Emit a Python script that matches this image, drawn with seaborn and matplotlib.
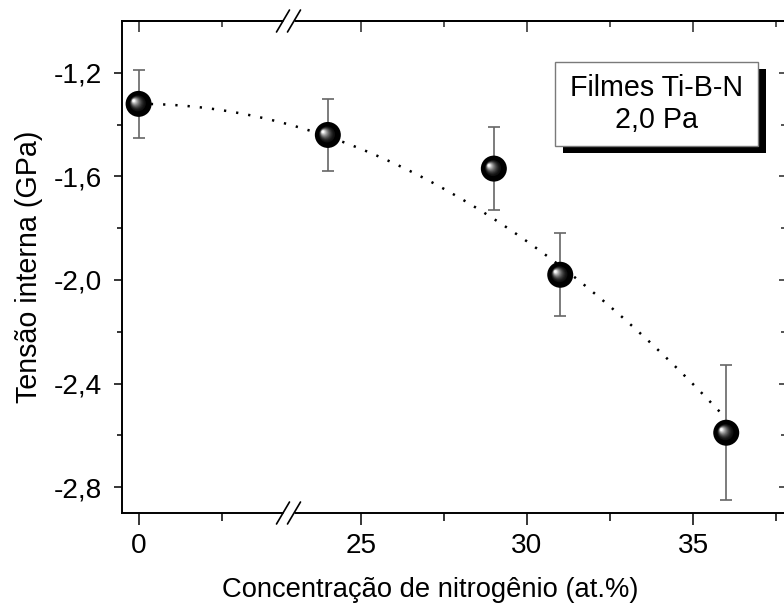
import numpy as np
import matplotlib
matplotlib.use("Agg")
import matplotlib.pyplot as plt
import matplotlib.transforms as mtransforms
from matplotlib.patches import Rectangle
from matplotlib.ticker import FixedLocator, FixedFormatter, NullFormatter
import seaborn as sns

# Internal stress of Ti-B-N films versus nitrogen content
nitrogen = [0.0, 24.0, 29.0, 31.0, 36.0]          # at.%
stress = [-1.32, -1.44, -1.57, -1.98, -2.59]      # GPa
stress_err = [0.13, 0.14, 0.16, 0.16, 0.26]       # GPa

x_major = [0, 25, 30, 35]
x_major_labels = ["0", "25", "30", "35"]
x_minor = [2.5, 27.5, 32.5, 37.5]
y_major = [-1.2, -1.6, -2.0, -2.4, -2.8]
y_minor = [-1.4, -1.8, -2.2, -2.6]

box_text = "Filmes Ti-B-N\n2,0 Pa"
x_title = "Concentração de nitrogênio (at.%)"
y_title = "Tensão interna (GPa)"

# broken x axis: the interval (BREAK_LO, BREAK_HI) is collapsed
BREAK_LO, BREAK_HI = 4.5, 22.8
X_MIN, X_MAX = -0.5, 37.83
Y_MIN, Y_MAX = -2.9, -1.0


def to_axis(x):
    x = np.asarray(x, dtype=float)
    return np.where(x > BREAK_LO, x - (BREAK_HI - BREAK_LO), x)


sns.set_theme(style="ticks")
plt.rcParams["font.family"] = ["Liberation Sans", "DejaVu Sans"]
plt.rcParams["font.size"] = 20

fig = plt.figure(figsize=(7.84, 6.10), dpi=100)
fig.patch.set_facecolor("white")
ax = fig.add_axes([122 / 784, 1 - 513 / 610, (787 - 122) / 784, (513 - 21) / 610])
ax.set_facecolor("white")

u = to_axis(nitrogen)
y = np.asarray(stress)

# parabolic trend anchored at the nitrogen-free film, drawn on the collapsed axis
du2 = (u[1:] - u[0]) ** 2
curv = np.sum(du2 * (y[1:] - y[0])) / np.sum(du2 ** 2)
u_fit = np.linspace(u[0], u[-1], 300)
y_fit = y[0] + curv * (u_fit - u[0]) ** 2
sns.lineplot(x=u_fit, y=y_fit, ax=ax, color="black", lw=1.8,
             linestyle=(0, (0.9, 4.0)), sort=False, zorder=2)

# error bars
ax.errorbar(u, y, yerr=stress_err, fmt="none", ecolor="#666666",
            elinewidth=1.2, capsize=4, capthick=1.2, zorder=3)

# shaded spheres
D = 26 * 0.72  # marker diameter in points
sns.scatterplot(x=u, y=y, ax=ax, s=D ** 2, color="black", edgecolor="none",
                linewidth=0, zorder=4, legend=False)
n_layers = 12
for i, t in enumerate(np.linspace(0, 1, n_layers)):
    diam = D * (0.62 - 0.52 * t)
    gray = 0.06 + 0.92 * t ** 1.6
    off = mtransforms.offset_copy(ax.transData, fig=fig,
                                  x=-4.0 * t * 0.72 - 0.6, y=2.6 * t * 0.72 + 0.4,
                                  units="points")
    sns.scatterplot(x=u, y=y, ax=ax, s=diam ** 2, color=(gray, gray, gray),
                    edgecolor="none", linewidth=0, zorder=5 + i * 0.01,
                    legend=False, transform=off)

# axes limits and ticks
ax.set_xlim(float(to_axis(X_MIN)), float(to_axis(X_MAX)))
ax.set_ylim(Y_MIN, Y_MAX)

ax.xaxis.set_major_locator(FixedLocator(to_axis(x_major)))
ax.xaxis.set_major_formatter(FixedFormatter(x_major_labels))
ax.xaxis.set_minor_locator(FixedLocator(to_axis(x_minor)))
ax.yaxis.set_major_locator(FixedLocator(y_major))
ax.yaxis.set_major_formatter(FixedFormatter([f"{v:.1f}".replace(".", ",") for v in y_major]))
ax.yaxis.set_minor_locator(FixedLocator(y_minor))
ax.yaxis.set_minor_formatter(NullFormatter())

lw_axis = 1.4
for sp in ax.spines.values():
    sp.set_linewidth(lw_axis)
    sp.set_color("black")

ax.tick_params(axis="x", which="major", direction="out", length=8.6, width=1.1,
               pad=5.5, labelsize=20.2, colors="black", top=False)
ax.tick_params(axis="x", which="minor", direction="out", length=5.8, width=1.1,
               top=False, colors="black")
ax.tick_params(axis="y", which="major", direction="out", length=5.8, width=1.1,
               pad=8.5, labelsize=20.2, colors="black", right=False)
ax.tick_params(axis="y", which="minor", direction="out", length=3.4, width=1.1,
               right=False, colors="black")

# inward ticks on the top and right sides
top = ax.secondary_xaxis("top")
top.xaxis.set_major_locator(FixedLocator(to_axis(x_major)))
top.xaxis.set_minor_locator(FixedLocator(to_axis(x_minor)))
top.xaxis.set_major_formatter(NullFormatter())
top.tick_params(which="major", direction="in", length=8.0, width=1.1)
top.tick_params(which="minor", direction="in", length=4.0, width=1.1)
top.spines["top"].set_linewidth(lw_axis)

right = ax.secondary_yaxis("right")
right.yaxis.set_major_locator(FixedLocator(y_major))
right.yaxis.set_minor_locator(FixedLocator(y_minor))
right.yaxis.set_major_formatter(NullFormatter())
right.yaxis.set_minor_formatter(NullFormatter())
right.tick_params(which="major", direction="in", length=5.8, width=1.1)
right.tick_params(which="minor", direction="in", length=4.0, width=1.1)
right.spines["right"].set_linewidth(lw_axis)

# break marks on the top and bottom spines
bx1 = (283 - 122) / 665
bx2 = (294 - 122) / 665
hx = 6.5 / 665
hy = 11 / 492
for yy in (0.0, 1.0):
    ax.plot([bx1, bx2], [yy, yy], transform=ax.transAxes, color="white",
            lw=3.5, solid_capstyle="butt", clip_on=False, zorder=20)
    for bx in (bx1, bx2):
        ax.plot([bx - hx, bx + hx], [yy - hy, yy + hy], transform=ax.transAxes,
                color="black", lw=1.2, clip_on=False, zorder=21)

# labelled box with drop shadow
bx0, bx1_, by0, by1 = (555 - 122) / 665, (758 - 122) / 665, (513 - 146) / 492, (513 - 62) / 492
sdx, sdy = 8 / 665, 7 / 492
ax.add_patch(Rectangle((bx0 + sdx, by0 - sdy), bx1_ - bx0, by1 - by0,
                       transform=ax.transAxes, facecolor="black", edgecolor="none",
                       zorder=8))
ax.add_patch(Rectangle((bx0, by0), bx1_ - bx0, by1 - by0,
                       transform=ax.transAxes, facecolor="white", edgecolor="#7a7a7a",
                       lw=1.0, zorder=9))
ax.text((bx0 + bx1_) / 2, (by0 + by1) / 2, box_text, transform=ax.transAxes,
        ha="center", va="center", multialignment="center", fontsize=20.6,
        linespacing=1.2, color="black", zorder=10)

ax.set_xlabel(x_title, fontsize=19.7, color="black")
ax.set_ylabel(y_title, fontsize=20.6, color="black")
ax.xaxis.set_label_coords((430 - 122) / 665, -(577 - 513) / 492)
ax.yaxis.set_label_coords(-(122 - 43) / 665, 0.5)

fig.savefig("out.png", dpi=100, facecolor="white")
